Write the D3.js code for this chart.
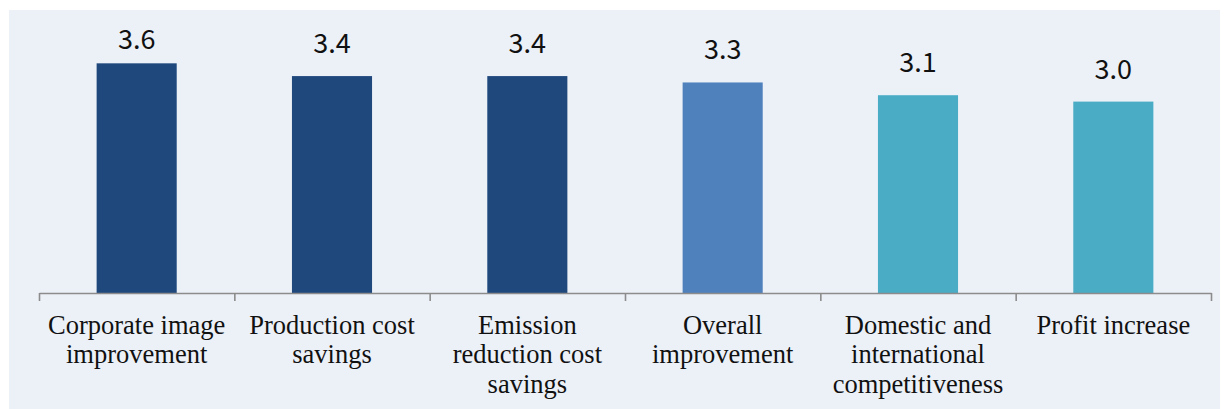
<!DOCTYPE html>
<html>
<head>
<meta charset="utf-8">
<script src="https://cdn.jsdelivr.net/npm/d3@7"></script>
<style>
  html, body { margin: 0; padding: 0; background: #ffffff; }
  svg { display: block; }
</style>
</head>
<body>
<svg id="chart" width="1227" height="409"></svg>
<script>
// Categories (line breaks mark where each axis label wraps)
const categories = [
  "Corporate image\nimprovement",
  "Production cost\nsavings",
  "Emission\nreduction cost\nsavings",
  "Overall\nimprovement",
  "Domestic and\ninternational\ncompetitiveness",
  "Profit increase"
];
const values = [3.6, 3.4, 3.4, 3.3, 3.1, 3.0];
const barColors = ["#1F497D", "#1F497D", "#1F497D", "#4F81BD", "#4BACC6", "#4BACC6"];

const svg = d3.select("#chart");
const W = 1227, H = 409;

// panel background
svg.append("rect")
  .attr("x", 9).attr("y", 10)
  .attr("width", 1211).attr("height", H - 10)
  .attr("fill", "#ECF0F7");

const left = 39, right = 1211, baseY = 293;
const x = d3.scaleBand().domain(d3.range(categories.length)).range([left, right]).padding(0);
const y = d3.scaleLinear().domain([0, 4.5]).range([baseY, baseY - 4.5 * 63.8]);
const barW = x.bandwidth() * 0.41;

// bars
svg.append("g").selectAll("rect")
  .data(values)
  .join("rect")
  .attr("x", (d, i) => x(i) + (x.bandwidth() - barW) / 2)
  .attr("y", d => y(d))
  .attr("width", barW)
  .attr("height", d => y(0) - y(d))
  .attr("fill", (d, i) => barColors[i]);

// value labels above the bars (kept inside the plot area)
svg.append("g").selectAll("text")
  .data(values)
  .join("text")
  .attr("x", (d, i) => x(i) + x.bandwidth() / 2)
  .attr("y", d => Math.max(y(d) - 23, 48.5))
  .attr("text-anchor", "middle")
  .attr("font-family", "'Noto Sans CJK KR', 'Noto Sans', sans-serif")
  .attr("font-size", 27)
  .attr("fill", "#111")
  .text(d => d3.format(".1f")(d));

// category axis with ticks on the boundaries between categories
const xb = d3.scaleLinear().domain([0, categories.length]).range([left, right]);
const axis = svg.append("g")
  .attr("transform", `translate(0,${baseY})`)
  .call(d3.axisBottom(xb).tickValues(d3.range(categories.length + 1)).tickSize(8).tickSizeOuter(0).tickFormat(""));
axis.select(".domain").attr("stroke", "#8C8C8C").attr("stroke-width", 1.6);
axis.selectAll(".tick line").attr("stroke", "#8C8C8C").attr("stroke-width", 1.6);

// category labels
const lab = svg.append("g").selectAll("text")
  .data(categories)
  .join("text")
  .attr("text-anchor", "middle")
  .attr("font-family", "'Liberation Serif', 'Times New Roman', serif")
  .attr("font-size", 26.5)
  .attr("fill", "#111");
lab.each(function(d, i) {
  const t = d3.select(this);
  d.split("\n").forEach((line, k) => {
    t.append("tspan")
      .attr("x", x(i) + x.bandwidth() / 2)
      .attr("y", 333.5 + k * 29.5)
      .text(line);
  });
});
</script>
</body>
</html>
